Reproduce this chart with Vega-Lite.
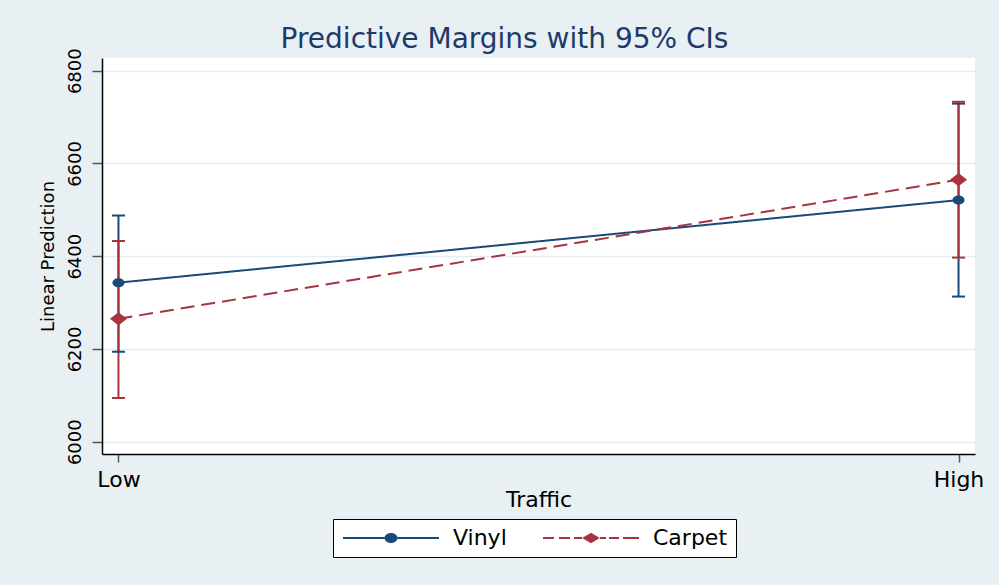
{
  "$schema": "https://vega.github.io/schema/vega-lite/v6.json",
  "autosize": {"type": "none"},
  "padding": {"left": 102, "top": 58, "right": 24, "bottom": 131},
  "width": 873,
  "height": 396,
  "background": "#e8f0f3",
  "title": {
    "text": "Predictive Margins with 95% CIs",
    "font": "DejaVu Sans",
    "fontSize": 28,
    "fontWeight": "normal",
    "color": "#1e3a6a",
    "anchor": "middle",
    "frame": "group",
    "dx": -34,
    "dy": 28,
    "baseline": "alphabetic",
    "offset": 0
  },
  "data": {
    "values": [
      {"series": "Vinyl", "traffic": "Low", "margin": 6343, "lo": 6194, "hi": 6488},
      {"series": "Vinyl", "traffic": "High", "margin": 6521, "lo": 6313, "hi": 6729},
      {"series": "Carpet", "traffic": "Low", "margin": 6265, "lo": 6094, "hi": 6433},
      {"series": "Carpet", "traffic": "High", "margin": 6565, "lo": 6397, "hi": 6733}
    ]
  },
  "encoding": {
    "x": {
      "field": "traffic",
      "type": "ordinal",
      "sort": ["Low", "High"],
      "scale": {"type": "point", "padding": 0.0196},
      "axis": {
        "title": "Traffic",
        "labelAngle": 0,
        "labelFont": "DejaVu Sans",
        "labelFontSize": 22,
        "labelColor": "black",
        "labelBaseline": "alphabetic",
        "labelPadding": 24,
        "tickSize": 8,
        "tickWidth": 1.5,
        "tickColor": "#555555",
        "domainColor": "black",
        "domainWidth": 1.5,
        "grid": false,
        "titleFont": "DejaVu Sans",
        "titleFontSize": 22,
        "titleFontWeight": "normal",
        "titleColor": "black",
        "titleBaseline": "alphabetic",
        "titlePadding": 16
      }
    },
    "color": {
      "field": "series",
      "type": "nominal",
      "scale": {"domain": ["Vinyl", "Carpet"], "range": ["#1a4a78", "#a8343f"]},
      "legend": {
        "title": null,
        "orient": "none",
        "legendX": 231,
        "legendY": 461,
        "direction": "horizontal",
        "strokeColor": "black",
        "fillColor": "white",
        "padding": 8,
        "labelFont": "DejaVu Sans",
        "labelFontSize": 22,
        "labelColor": "black",
        "symbolSize": 100,
        "symbolOffset": 39,
        "labelOffset": 51,
        "columnPadding": 34,
        "symbolStrokeWidth": 0,
        "encode": {
          "symbols": {
            "update": {
              "shape": {"signal": "datum.value === 'Vinyl' ? 'M-9.6,-0.2H-1.3V0.2H-9.6ZM1.3,-0.2H9.6V0.2H1.3ZM-1.3,0A1.3,1,0,1,0,1.3,0A1.3,1,0,1,0,-1.3,0Z' : 'M-9.6,-0.2H-7.4V0.2H-9.6ZM-6.4,-0.2H-4.2V0.2H-6.4ZM-3.4,-0.2H-1.8V0.2H-3.4ZM1.8,-0.2H3V0.2H1.8ZM3.6,-0.2H5.6V0.2H3.6ZM6.4,-0.2H9.6V0.2H6.4ZM-1.76,0L0,-1.07L1.76,0L0,1.07Z'"},
              "fill": {"signal": "datum.value === 'Vinyl' ? '#1a4a78' : '#a8343f'"},
              "fillOpacity": {"value": 1},
              "strokeWidth": {"value": 0},
              "opacity": {"value": 1}
            }
          }
        }
      }
    }
  },
  "layer": [
    {
      "mark": {"type": "rule", "strokeWidth": 2},
      "encoding": {
        "y": {
          "field": "lo",
          "type": "quantitative",
          "scale": {"domain": [5973.5, 6827.4], "nice": false, "zero": false},
          "axis": {
            "title": "Linear Prediction",
            "values": [6000, 6200, 6400, 6600, 6800],
            "format": "d",
            "labelAngle": -90,
            "labelAlign": "center",
            "labelBaseline": "alphabetic",
            "labelPadding": 12,
            "labelFont": "DejaVu Sans",
            "labelFontSize": 18,
            "labelColor": "black",
            "tickSize": 10,
            "tickWidth": 1.5,
            "tickColor": "#555555",
            "domainColor": "black",
            "domainWidth": 1.5,
            "grid": true,
            "gridColor": "#e4edf0",
            "gridWidth": 1.5,
            "titleFont": "DejaVu Sans",
            "titleFontSize": 18,
            "titleFontWeight": "normal",
            "titleColor": "black",
            "titleBaseline": "alphabetic",
            "titlePadding": 13
          }
        },
        "y2": {"field": "hi"}
      }
    },
    {
      "mark": {"type": "tick", "size": 13, "thickness": 2, "opacity": 1},
      "encoding": {"y": {"field": "lo", "type": "quantitative"}}
    },
    {
      "mark": {"type": "tick", "size": 13, "thickness": 2, "opacity": 1},
      "encoding": {"y": {"field": "hi", "type": "quantitative"}}
    },
    {
      "mark": {"type": "line", "strokeWidth": 2},
      "encoding": {
        "y": {"field": "margin", "type": "quantitative"},
        "strokeDash": {
          "field": "series",
          "type": "nominal",
          "scale": {"domain": ["Vinyl", "Carpet"], "range": [[1, 0], [14, 7]]},
          "legend": null
        }
      }
    },
    {
      "transform": [{"filter": "datum.series === 'Vinyl'"}],
      "mark": {"type": "point", "filled": true, "opacity": 1, "size": 100, "shape": "M-1.2,0A1.2,0.9,0,1,0,1.2,0A1.2,0.9,0,1,0,-1.2,0Z"},
      "encoding": {"y": {"field": "margin", "type": "quantitative"}}
    },
    {
      "transform": [{"filter": "datum.series === 'Carpet'"}],
      "mark": {"type": "point", "filled": true, "opacity": 1, "size": 100, "shape": "M-1.7,0L0,-1.33L1.7,0L0,1.33Z"},
      "encoding": {"y": {"field": "margin", "type": "quantitative"}}
    }
  ],
  "config": {
    "view": {"stroke": null, "fill": "white"}
  }
}
